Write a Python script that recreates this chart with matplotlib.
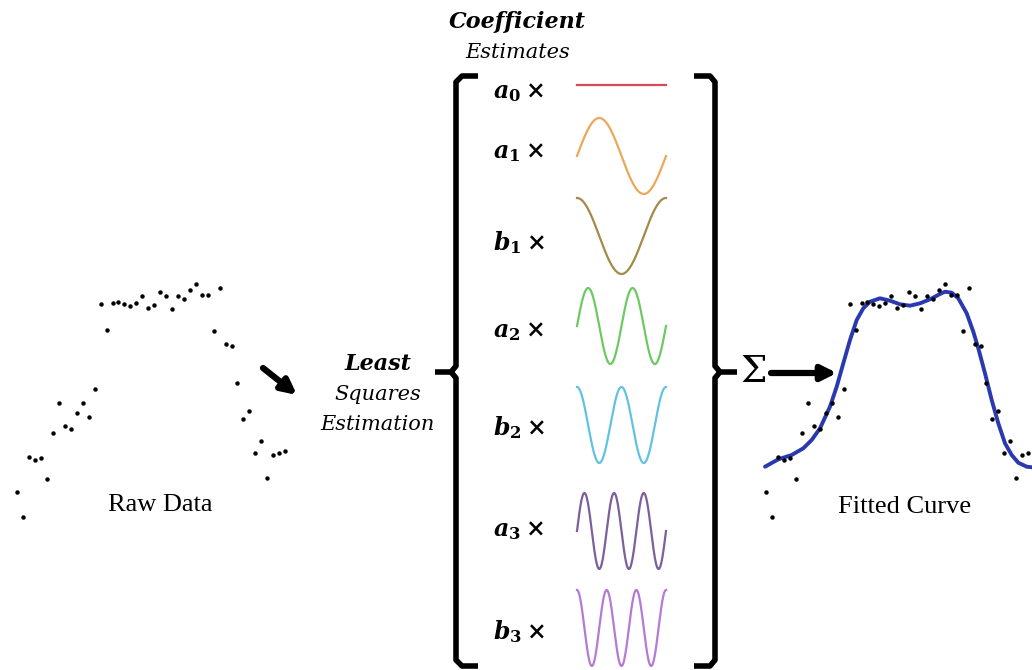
import numpy as np
import matplotlib
matplotlib.use("Agg")
import matplotlib.pyplot as plt

# fonts: bold-italic serif for the coefficient symbols
plt.rcParams['mathtext.fontset'] = 'custom'
plt.rcParams['mathtext.it'] = 'DejaVu Serif:italic:bold'
plt.rcParams['mathtext.rm'] = 'DejaVu Serif:bold'
plt.rcParams['mathtext.bf'] = 'DejaVu Serif:bold'

# raw data points (x, y), image units
raw_x = [100.7, 112.7, 118.0, 124.0, 130.0, 136.0, 142.0, 148.0, 154.0, 160.0,
         166.0, 172.0, 178.0, 184.0, 190.0, 196.0, 202.0, 208.0, 220.0, 106.7,
         214.0, 226.0, 232.0, 95.0, 58.7, 82.7, 76.7, 88.7, 64.7, 70.7,
         52.7, 28.7, 34.7, 40.7, 46.7, 16.7, 22.7, 237.0, 249.0, 243.0,
         261.0, 255.0, 273.0, 279.0, 285.0, 267.0]
raw_y = [303.7, 303.0, 302.0, 303.7, 305.7, 302.7, 296.3, 307.7, 305.0, 291.7,
         296.3, 308.7, 296.3, 298.7, 290.0, 283.7, 295.0, 295.0, 287.7, 329.7,
         330.7, 344.3, 346.0, 389.0, 403.3, 403.3, 413.3, 417.3, 425.7, 429.3,
         433.3, 457.0, 459.7, 458.3, 478.7, 492.3, 516.7, 382.7, 410.7, 418.7,
         441.3, 453.3, 454.7, 453.3, 451.3, 477.7]

# fitted curve samples, same units as raw data
fit_x = [16.0, 29.3, 42.7, 54.3, 62.7, 71.0, 81.0, 87.7, 94.3, 101.0,
         107.7, 114.3, 121.0, 131.0, 141.0, 151.0, 161.0, 171.0, 181.0, 191.0,
         196.0, 202.7, 209.3, 217.7, 224.3, 229.3, 236.0, 242.7, 249.3, 256.0,
         262.7, 269.3, 277.7, 283.0]
fit_y = [466.7, 459.3, 455.0, 448.3, 440.0, 428.3, 406.7, 386.7, 363.3, 340.0,
         320.0, 308.3, 301.7, 298.3, 300.7, 304.3, 305.7, 303.3, 299.3, 294.0,
         291.7, 292.7, 298.3, 313.3, 331.7, 348.3, 373.3, 400.0, 423.3, 443.3,
         455.0, 462.7, 466.7, 467.3]

# Fourier basis terms
basis_labels = [r'$a_0\times$', r'$a_1\times$', r'$b_1\times$', r'$a_2\times$',
                r'$b_2\times$', r'$a_3\times$', r'$b_3\times$']
basis_kind = ['const', 'sin', 'cos', 'sin', 'cos', 'sin', 'cos']
basis_freq = [0, 1, 1, 2, 2, 3, 3]
basis_colors = ['#d8475a', '#eaa85a', '#a38a4a', '#6cca62', '#62c2e2',
                '#7d5f9c', '#b47ad6']

fit_offset = 749
row_y = [85, 156, 236, 326, 425, 531, 628]
label_y = [92, 152, 243, 331, 428, 530, 632]
wave_x0, wave_w, amp = 577, 89, 38

fig = plt.figure(figsize=(10.32, 6.70), dpi=100)
ax = fig.add_axes([0, 0, 1, 1])
ax.set_xlim(0, 1032)
ax.set_ylim(670, 0)
ax.axis('off')

# left panel: raw data
ax.plot(raw_x, raw_y, 'o', color='black', ms=3.2, mec='none')
ax.text(160, 505, 'Raw Data', ha='center', va='center', fontsize=19,
        family='Liberation Serif')
ax.annotate('', xy=(297, 395), xytext=(263, 368),
            arrowprops=dict(arrowstyle='-|>', lw=4.5, color='black',
                            mutation_scale=22, shrinkA=0, shrinkB=0))

# middle text
ax.text(378, 364, 'Least', ha='center', va='center', fontsize=16,
        family='DejaVu Serif', style='italic', weight='bold')
ax.text(378, 395, 'Squares', ha='center', va='center', fontsize=15,
        family='DejaVu Serif', style='italic')
ax.text(378, 424, 'Estimation', ha='center', va='center', fontsize=15,
        family='DejaVu Serif', style='italic')
ax.text(517, 22, 'Coefficient', ha='center', va='center', fontsize=16,
        family='DejaVu Serif', style='italic', weight='bold')
ax.text(518, 52, 'Estimates', ha='center', va='center', fontsize=15,
        family='DejaVu Serif', style='italic')

# brackets
bk = dict(color='black', lw=4, solid_capstyle='butt', solid_joinstyle='round')
ax.plot([478, 462, 456, 456, 451, 435], [76, 76, 82, 366, 372, 372], **bk)
ax.plot([451, 456, 456, 462, 478], [372, 378, 660, 666, 666], **bk)
ax.plot([694, 710, 715, 715, 720, 737], [76, 76, 82, 366, 372, 372], **bk)
ax.plot([720, 715, 715, 710, 694], [372, 378, 660, 666, 666], **bk)

# basis functions
t = np.linspace(0, 1, 300)
for lab, kind, k, col, yc, ly in zip(basis_labels, basis_kind, basis_freq,
                                      basis_colors, row_y, label_y):
    if kind == 'const':
        f = np.zeros_like(t)
    elif kind == 'sin':
        f = np.sin(2 * np.pi * k * t)
    else:
        f = np.cos(2 * np.pi * k * t)
    ax.plot(wave_x0 + wave_w * t, yc - amp * f, color=col, lw=1.6)
    ax.text(519, ly, lab, ha='center', va='center', fontsize=17)

# sum and arrow
ax.text(754, 372, '\u03a3', ha='center', va='center', fontsize=27,
        family='DejaVu Serif')
ax.annotate('', xy=(837, 373), xytext=(771, 373),
            arrowprops=dict(arrowstyle='-|>', lw=4.5, color='black',
                            mutation_scale=22, shrinkA=0, shrinkB=0))

# right panel: fitted curve over the same data
ax.plot(np.array(fit_x) + fit_offset, fit_y, color='#2a3aae', lw=2.8,
        solid_capstyle='round')
ax.plot(np.array(raw_x) + fit_offset, raw_y, 'o', color='black', ms=3.2,
        mec='none')
ax.text(905, 507, 'Fitted Curve', ha='center', va='center', fontsize=19,
        family='Liberation Serif')

fig.savefig('out.png', dpi=100, facecolor='white')
